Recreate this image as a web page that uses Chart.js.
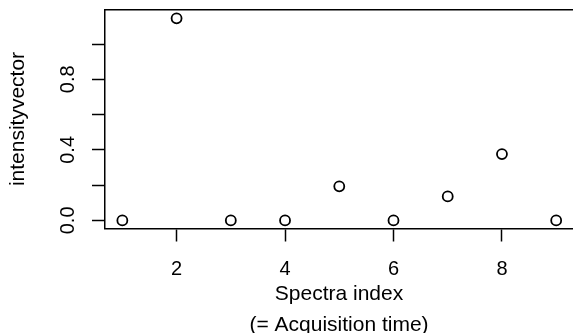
<!DOCTYPE html>
<html lang="en">
<head>
  <meta charset="UTF-8" />
  <title>intensityvector</title>
  <script src="https://cdn.jsdelivr.net/npm/chart.js"></script>
  <style>
    body {
      margin: 0;
      background: #fff;
      overflow: hidden;
    }
  </style>
</head>
<body>
  <canvas id="plot" width="573" height="333"></canvas>

  <script>
    // values
    const spectraIndex = [1, 2, 3, 4, 5, 6, 7, 8, 9];
    const intensity = [0, 1.146, 0, 0, 0.193, 0, 0.136, 0.376, 0];
    const xTicks = [2, 4, 6, 8];
    const yTicks = [0, 0.2, 0.4, 0.6, 0.8, 1.0];
    const yTickLabels = ['0.0', '', '0.4', '', '0.8', ''];

    const font = 'Liberation Sans, Arial, Helvetica, sans-serif';

    const points = spectraIndex.map((x, i) => ({ x: x, y: intensity[i] }));

    // fixed box sizes so the plot region lands where the R plot has it
    function fixBox(size) {
      return s => {
        if (s.isHorizontal()) s.height = size; else s.width = size;
        s.paddingTop = 0; s.paddingBottom = 0;
        s.paddingLeft = 0; s.paddingRight = 0;
      };
    }

    new Chart(document.getElementById('plot'), {
      type: 'scatter',
      data: {
        datasets: [{
          data: points,
          pointStyle: 'circle',
          pointRadius: 5,
          pointHoverRadius: 5,
          borderColor: '#000',
          backgroundColor: 'rgba(0,0,0,0)',
          borderWidth: 1.8
        }]
      },
      options: {
        responsive: false,
        animation: false,
        events: [],
        layout: { padding: 0, autoPadding: false },
        plugins: { legend: { display: false }, tooltip: { enabled: false } },
        scales: {
          x: {
            type: 'linear',
            position: 'bottom',
            min: 0.68,
            max: 9.31,
            afterBuildTicks: s => { s.ticks = xTicks.map(v => ({ value: v })); },
            afterFit: fixBox(104.5),
            grid: { drawOnChartArea: false, drawTicks: true, tickLength: 13, tickColor: '#000', tickWidth: 1.5 },
            border: { display: true, color: '#000', width: 1.5 },
            ticks: {
              color: '#000', padding: 16, maxRotation: 0, autoSkip: false,
              font: { family: font, size: 20 }
            },
            title: {
              display: true,
              text: ['Spectra index', '(= Acquisition time)'],
              color: '#000',
              font: { family: font, size: 21, lineHeight: 1.5 },
              padding: { top: 0, bottom: -8 }
            }
          },
          top: {
            type: 'linear',
            position: 'top',
            min: 0.68,
            max: 9.31,
            afterFit: fixBox(9.5),
            grid: { display: false, drawTicks: false },
            border: { display: true, color: '#000', width: 1.5 },
            ticks: { display: false }
          },
          y: {
            type: 'linear',
            position: 'left',
            min: -0.046,
            max: 1.196,
            afterBuildTicks: s => { s.ticks = yTicks.map(v => ({ value: v })); },
            afterFit: fixBox(105),
            grid: { drawOnChartArea: false, drawTicks: true, tickLength: 13, tickColor: '#000', tickWidth: 1.5 },
            border: { display: true, color: '#000', width: 1.5 },
            ticks: {
              color: '#000', padding: 10, autoSkip: false,
              minRotation: 90, maxRotation: 90, crossAlign: 'center',
              font: { family: font, size: 20 },
              callback: (v, i) => yTickLabels[i]
            },
            title: {
              display: true,
              text: 'intensityvector',
              color: '#000',
              font: { family: font, size: 21, lineHeight: 1.2 },
              padding: { top: 6, bottom: 0 }
            }
          }
        }
      }
    });
  </script>
</body>
</html>
